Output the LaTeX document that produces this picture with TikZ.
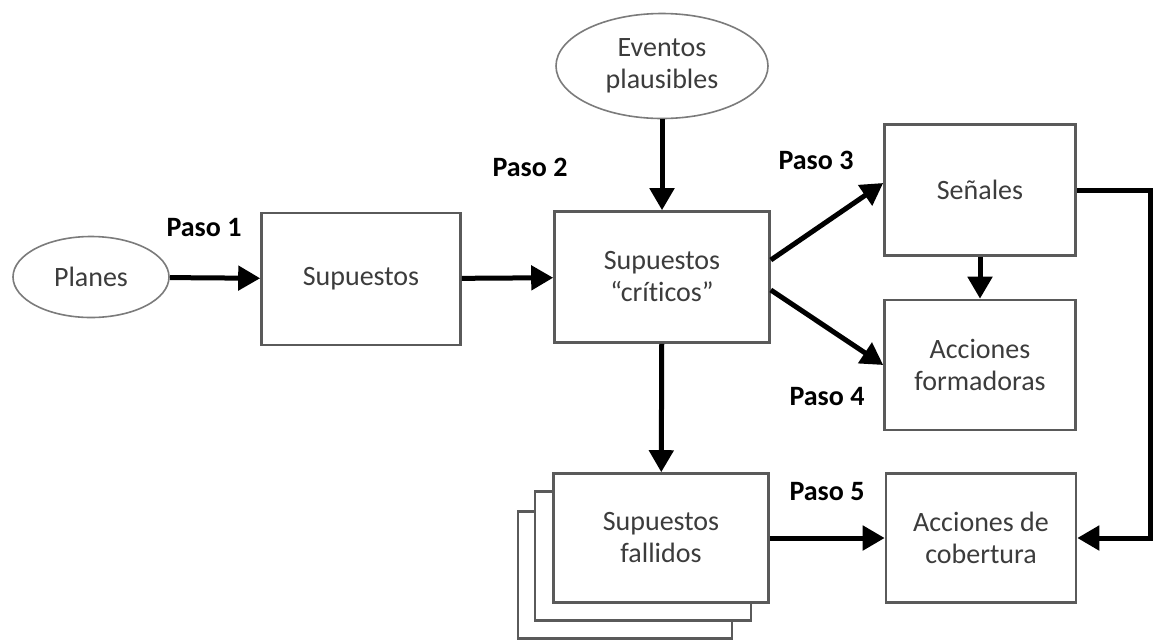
\documentclass[tikz,border=0pt]{standalone}
\usepackage{fontspec}
\setmainfont{Carlito}[Ligatures={TeX,NoCommon}]
\usetikzlibrary{shapes.geometric,arrows.meta}
\definecolor{txtgris}{HTML}{3C3C3C}
\definecolor{bordegris}{HTML}{5A5A5A}
\begin{document}
\begin{tikzpicture}[x=1pt,y=-1pt,line join=miter,
    font=\fontsize{28}{32}\selectfont,
    caja/.style={draw=bordegris,line width=2.6pt,fill=white,text=txtgris,align=center,inner sep=0pt},
    elip/.style={ellipse,draw=bordegris!80,line width=1.6pt,fill=white,text=txtgris,align=center,inner sep=0pt},
    flecha/.style={-{Triangle[length=22pt,width=24pt]},line width=5pt,black},
    paso/.style={font=\fontsize{28}{32}\selectfont\bfseries,text=black}]
        \useasboundingbox (0,0) rectangle (1154,641);
        % nodos
        \node[elip,minimum width=156,minimum height=81] (planes) at (91,277) {Planes};
        \node[elip,minimum width=212,minimum height=105] (eventos) at (662,66) {Eventos\\plausibles};
        \node[caja,minimum width=199,minimum height=132] (sup) at (361,279) {Supuestos};
        \node[caja,minimum width=215,minimum height=131] (crit) at (662,277) {Supuestos\\``críticos''};
        \node[caja,minimum width=191,minimum height=131] (senal) at (980,190) {Señales};
        \node[caja,minimum width=191,minimum height=130] (form) at (980,365) {Acciones\\formadoras};
        \node[caja,minimum width=214,minimum height=127] (fallC) at (625,575) {};
        \node[caja,minimum width=216,minimum height=129] (fallB) at (643,556) {};
        \node[caja,minimum width=215,minimum height=129] (fall) at (661,538) {Supuestos\\fallidos};
        \node[caja,minimum width=190,minimum height=129] (cob) at (981,538) {Acciones de\\cobertura};
        % pasos
        \node[paso] (p1) at (204,228) {Paso 1};
        \node[paso] (p2) at (530,167) {Paso 2};
        \node[paso] (p3) at (816,160) {Paso 3};
        \node[paso] (p4) at (827,397) {Paso 4};
        \node[paso] (p5) at (827,492) {Paso 5};
        % flechas
        \draw[flecha] (planes) -- (sup);
        \draw[flecha] (sup) -- (crit);
        \draw[flecha] (eventos) -- (crit);
        \draw[flecha] (crit) -- (fall);
        \draw[flecha] ([yshift=17pt]crit.east) -- ([yshift=7pt]senal.west);
        \draw[flecha] ([yshift=-13pt]crit.east) -- (form.west);
        \draw[flecha] (senal) -- (form);
        \draw[flecha] (fall) -- (cob);
        \draw[flecha] (senal.east) -- ++(74,0) |- (cob.east);
    \end{tikzpicture}
\end{document}
